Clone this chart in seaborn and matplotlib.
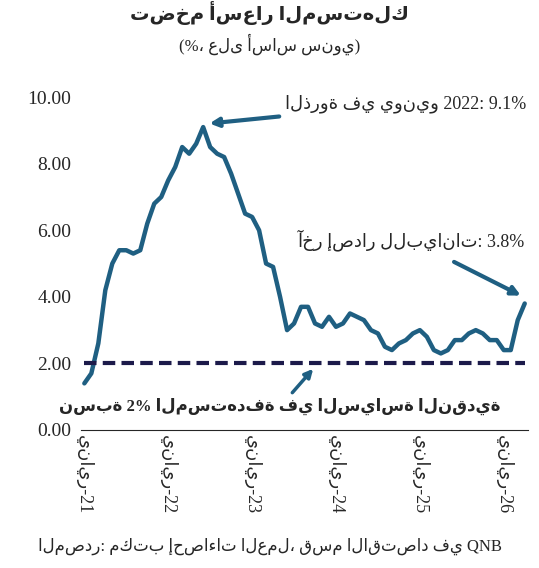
import matplotlib
matplotlib.use("Agg")
import matplotlib.pyplot as plt
import seaborn as sns
import pandas as pd
import numpy as np

sns.set_style("white")
plt.rcParams['font.family'] = ['Liberation Serif', 'DejaVu Sans']

cpi_2021 = [1.4, 1.7, 2.6, 4.2, 5.0, 5.4, 5.4, 5.3, 5.4, 6.2, 6.8, 7.0]
cpi_2022 = [7.5, 7.9, 8.5, 8.3, 8.6, 9.1, 8.5, 8.3, 8.2, 7.7, 7.1, 6.5]
cpi_2023 = [6.4, 6.0, 5.0, 4.9, 4.0, 3.0, 3.2, 3.7, 3.7, 3.2, 3.1, 3.4]
cpi_2024 = [3.1, 3.2, 3.5, 3.4, 3.3, 3.0, 2.9, 2.5, 2.4, 2.6, 2.7, 2.9]
cpi_2025 = [3.0, 2.8, 2.4, 2.3, 2.4, 2.7, 2.7, 2.9, 3.0, 2.9, 2.7, 2.7]
cpi_2026 = [2.4, 2.4, 3.3, 3.8]
target = 2.0
tick_labels = ["يناير-21", "يناير-22", "يناير-23", "يناير-24", "يناير-25", "يناير-26"]

vals = cpi_2021 + cpi_2022 + cpi_2023 + cpi_2024 + cpi_2025 + cpi_2026
df = pd.DataFrame({"m": np.arange(len(vals)), "v": vals})

fig = plt.figure(figsize=(5.39, 5.68), dpi=100)
ax = fig.add_axes([0.15, 0.243, 0.83, 0.586])
color = "#1f5f82"
sns.lineplot(data=df, x="m", y="v", ax=ax, color=color, linewidth=3.2)
ax.plot([0, len(vals) - 1], [target, target], color="#1c1a4a", linewidth=3, linestyle=(0, (3, 1.5)))

ax.set_ylim(0, 10)
ax.set_xlim(-0.5, len(vals) - 0.5)
ax.set_yticks(np.arange(0, 10.01, 2))
ax.set_yticklabels([f"{t:.2f}" for t in np.arange(0, 10.01, 2)], fontsize=14)
ax.set_xticks(np.arange(0, 61, 12))
ax.set_xticklabels(tick_labels, rotation=-90, fontsize=13)
ax.tick_params(axis="x", direction="in", length=4)
ax.set_xlabel(""); ax.set_ylabel("")
for s in ["top", "right", "left"]:
    ax.spines[s].set_visible(False)

ax.annotate("الذروة في يونيو 2022: 9.1%", xy=(17.5, 9.2), xytext=(46, 9.8), fontsize=13,
            ha="center", va="center", arrowprops=dict(arrowstyle="-|>", color=color, lw=3))
ax.annotate("آخر إصدار للبيانات: 3.8%", xy=(62.8, 4.0), xytext=(63, 5.7), fontsize=13,
            ha="right", va="center", arrowprops=dict(arrowstyle="-|>", color=color, lw=3, shrinkA=12))
ax.annotate("نسبة 2% المستهدفة في السياسة النقدية", xy=(33, 1.9), xytext=(28, 0.7), fontsize=12,
            fontweight="bold", ha="center", va="center",
            arrowprops=dict(arrowstyle="-|>", color=color, lw=2.5))

fig.text(0.5, 0.965, "تضخم أسعار المستهلك", ha="center", fontsize=14, fontweight="bold")
fig.text(0.5, 0.91, "(%، على أساس سنوي)", ha="center", fontsize=12)
fig.text(0.5, 0.03, "المصدر: مكتب إحصاءات العمل، قسم الاقتصاد في QNB", ha="center", fontsize=12)

fig.savefig("out.png", dpi=100)
